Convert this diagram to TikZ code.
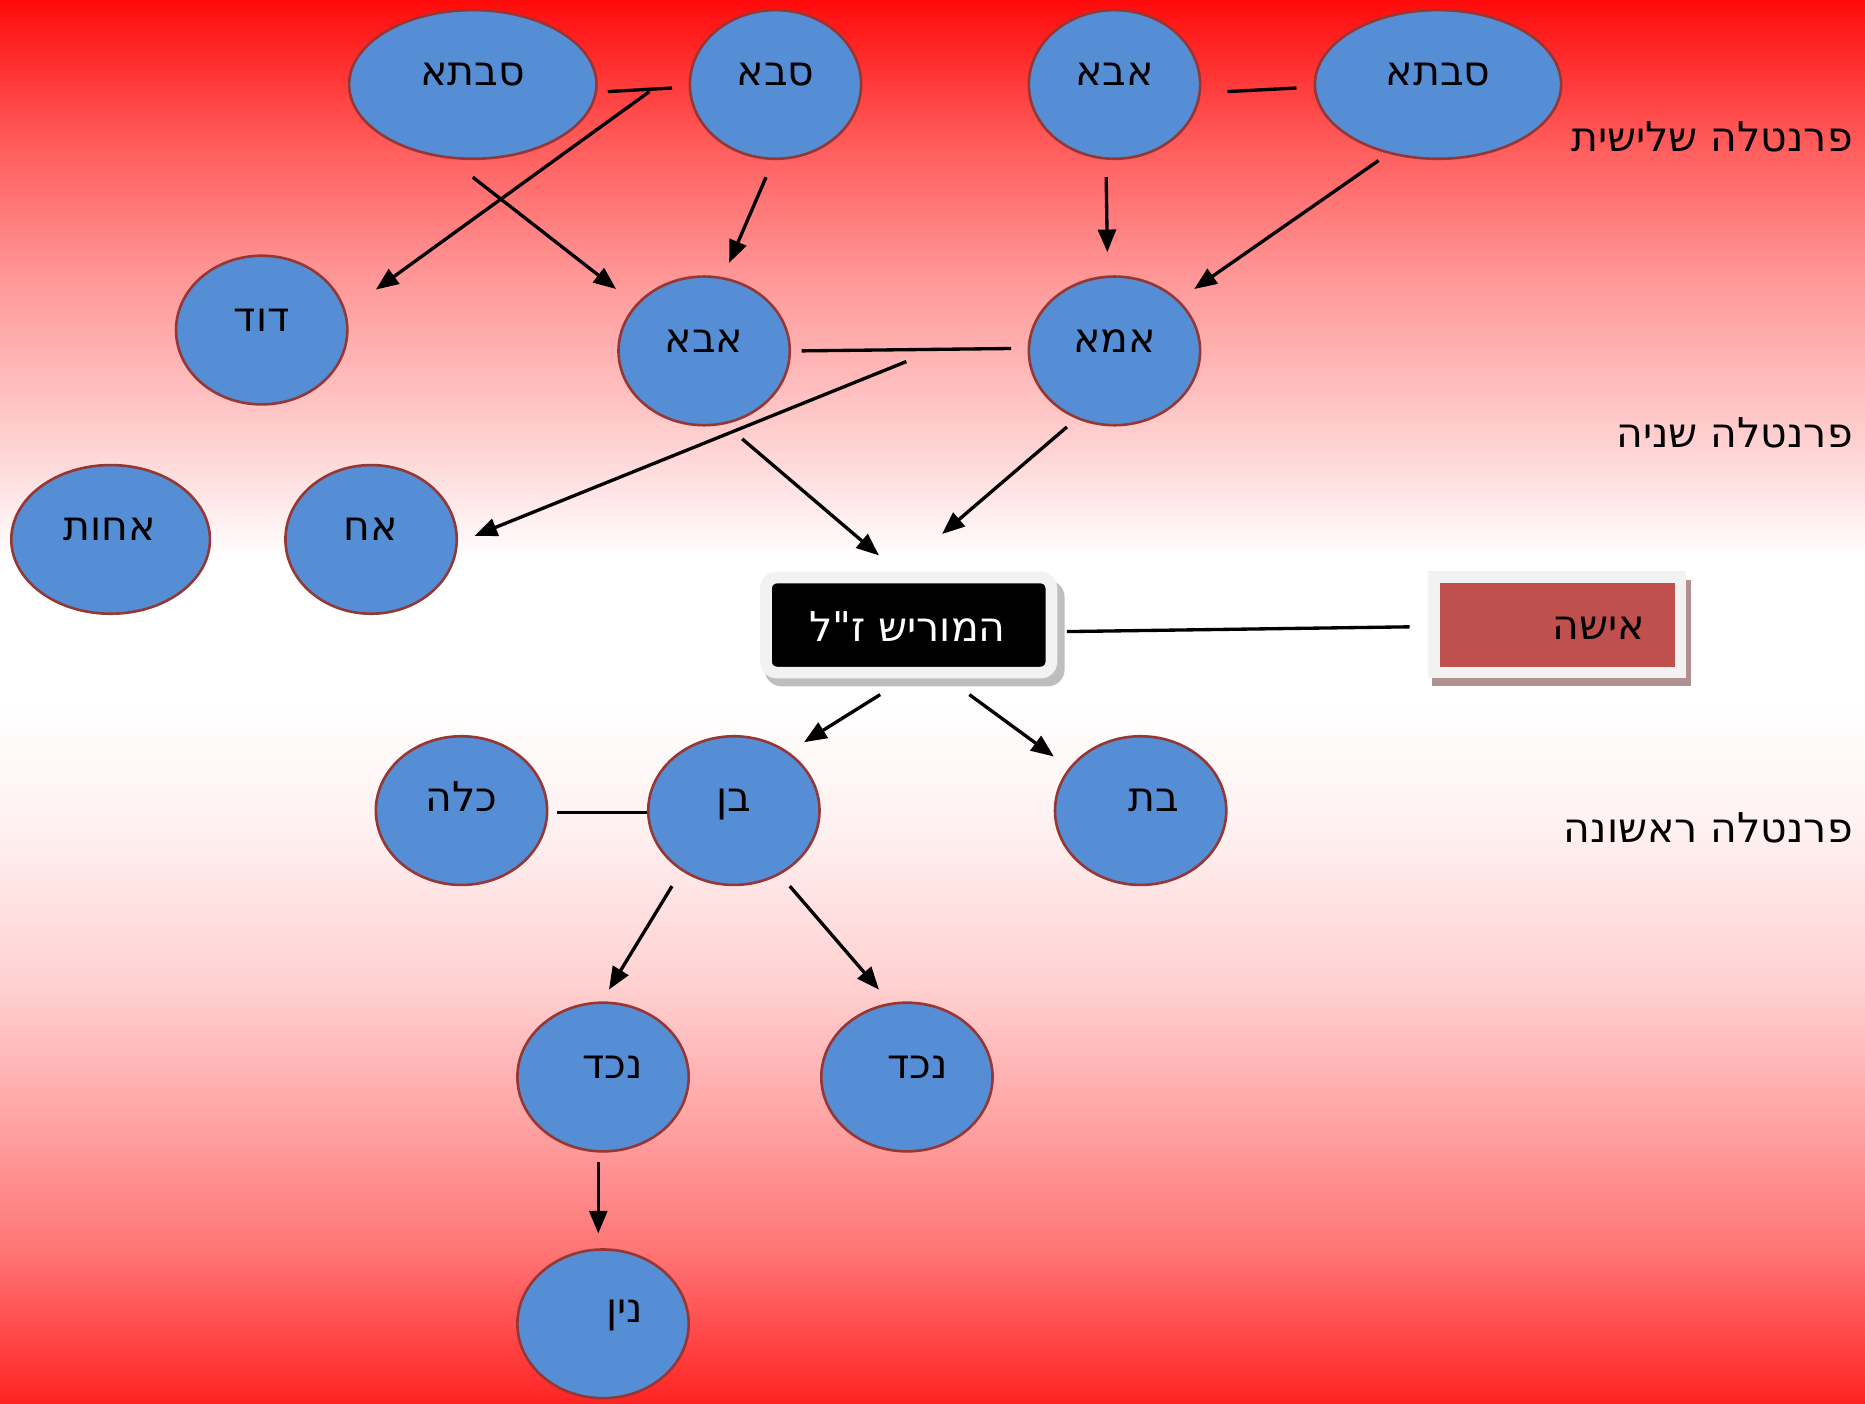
\documentclass[tikz,border=0pt]{standalone}
\usepackage{fontspec}
\newfontfamily\heb[Script=Hebrew]{DejaVu Sans}
\TeXXeTstate=1
\usetikzlibrary{shapes.geometric,arrows.meta,calc}
\definecolor{ellfill}{RGB}{85,142,213}
\definecolor{ellline}{RGB}{149,55,53}
\definecolor{wifered}{RGB}{192,80,77}
\definecolor{boxgray}{RGB}{242,242,242}
\definecolor{shadowgray}{RGB}{190,190,190}
\definecolor{wifeshadow}{RGB}{176,144,144}
\pgfdeclareverticalshading{bgshade}{100bp}{%
rgb(0bp)=(1,0.137,0.137);
rgb(25bp)=(1,0.137,0.137);
rgb(30.51bp)=(1,0.463,0.463);
rgb(34.75bp)=(1,0.627,0.627);
rgb(39.83bp)=(1,0.816,0.816);
rgb(45.34bp)=(1,0.941,0.941);
rgb(50bp)=(1,1,1);
rgb(55.08bp)=(1,1,1);
rgb(59.62bp)=(1,0.804,0.804);
rgb(65.25bp)=(1,0.588,0.588);
rgb(70.34bp)=(1,0.333,0.333);
rgb(75bp)=(1,0.04,0.04);
rgb(100bp)=(1,0.04,0.04)}
\begin{document}
\begin{tikzpicture}[x=1pt,y=-1pt,
  blob/.style={ellipse, draw=ellline, line width=2.2pt, fill=ellfill, inner sep=0pt,
    minimum width=144pt, minimum height=125pt},
  txt/.style={font=\heb\fontsize{34.5}{40}\selectfont, inner sep=0pt, anchor=base},
  ln/.style={line width=2.8pt, black},
  arr/.style={line width=2.8pt, black, -{Triangle[length=19pt,width=15pt]}},
  morbox/.style={rectangle, rounded corners=9pt, fill=black, draw=boxgray, line width=9.8pt,
    minimum width=240pt, minimum height=80pt, inner sep=0pt},
  wifebox/.style={rectangle, fill=wifered, draw=boxgray, line width=10pt,
    minimum width=207.4pt, minimum height=80.2pt, inner sep=0pt}
]
\useasboundingbox (0,0) rectangle (1568,1180);
\shade[shading=bgshade] (0,0) rectangle (1568,1180);

% shadows of the boxes
\fill[shadowgray, rounded corners=14pt] (643,488) rectangle (895,577);
\fill[wifeshadow] (1204,488) rectangle (1422,577);

% ellipses
\node[blob, minimum width=208pt] (sabtaL) at (397.5,71) {};
\node[blob] (saba) at (652,71) {};
\node[blob] (abaT) at (937,71) {};
\node[blob, minimum width=207pt] (sabtaR) at (1209,71) {};
\node[blob] (dod) at (220,277.5) {};
\node[blob] (abaM) at (592,295) {};
\node[blob] (ima) at (937,295) {};
\node[blob, minimum width=167pt] (achot) at (93,453.5) {};
\node[blob] (ach) at (312,453.5) {};
\node[blob] (kala) at (388,681.5) {};
\node[blob] (ben) at (617,681.5) {};
\node[blob] (bat) at (959,681.5) {};
\node[blob] (ncd1) at (507,905.5) {};
\node[blob] (ncd2) at (762.5,905.5) {};
\node[blob] (nin) at (507,1113) {};

% boxes
\node[morbox] (mor) at (764,525.5) {};
\node[wifebox] (isha) at (1309.2,525.3) {};

% texts
\node[txt] (t-sabtaL) at ($(sabtaL)+(0,1)$) {\beginR סבתא\endR};
\node[txt] (t-saba) at ($(saba)+(0,1)$) {\beginR סבא\endR};
\node[txt] (t-abaT) at ($(abaT)+(0,1)$) {\beginR אבא\endR};
\node[txt] (t-sabtaR) at ($(sabtaR)+(0,1)$) {\beginR סבתא\endR};
\node[txt] (t-dod) at ($(dod)+(0,1)$) {\beginR דוד\endR};
\node[txt] (t-abaM) at ($(abaM)+(0,1)$) {\beginR אבא\endR};
\node[txt] (t-ima) at ($(ima)+(0,1)$) {\beginR אמא\endR};
\node[txt] (t-achot) at ($(achot)+(-1,1)$) {\beginR אחות\endR};
\node[txt] (t-ach) at ($(ach)+(0,1)$) {\beginR אח\endR};
\node[txt] (t-kala) at ($(kala)+(0,1)$) {\beginR כלה\endR};
\node[txt] (t-ben) at ($(ben)+(0,1)$) {\beginR בן\endR};
\node[txt] (t-bat) at ($(bat)+(11,1)$) {\beginR בת\endR};
\node[txt] (t-ncd1) at ($(ncd1)+(8,1)$) {\beginR נכד\endR};
\node[txt] (t-ncd2) at ($(ncd2)+(9,1)$) {\beginR נכד\endR};
\node[txt] (t-nin) at ($(nin)+(18,-1)$) {\beginR נין\endR};
\node[txt, text=white] (t-mor) at ($(mor)+(-1,13.5)$) {\beginR המוריש ז"ל\endR};
\node[txt] (t-isha) at ($(isha)+(35,12.7)$) {\beginR אישה\endR};

% generation labels
\node[txt, anchor=base east] (lab3) at (1558,127.5) {\beginR פרנטלה שלישית\endR};
\node[txt, anchor=base east] (lab2) at (1558,376.5) {\beginR פרנטלה שניה\endR};
\node[txt, anchor=base east] (lab1) at (1558,708.5) {\beginR פרנטלה ראשונה\endR};

% connectors
\draw[ln] ($(sabtaL)+(113.5,6)$) -- ($(saba)+(-87,3)$);
\draw[arr] ($(saba)+(-106,6)$) -- ($(dod)+(96,-34)$);
\draw[arr] ($(sabtaL)+(0,78)$) -- ($(abaM)+(-74,-52)$);
\draw[arr] ($(saba)+(-8,78)$) -- ($(abaM)+(21,-74)$);
\draw[arr] ($(abaT)+(-7,78)$) -- ($(ima)+(-6,-83)$);
\draw[ln] ($(abaT)+(95,6)$) -- ($(sabtaR)+(-119,3)$);
\draw[arr] ($(sabtaR)+(-50,64)$) -- ($(ima)+(67,-52)$);
\draw[ln] ($(abaM)+(82,0)$) -- ($(ima)+(-87,-2)$);
\draw[arr] ($(abaM)+(170,9)$) -- ($(ach)+(87,-3)$);
\draw[arr] ($(abaM)+(32,74)$) -- ($(mor)+(-25,-58.5)$);
\draw[arr] ($(ima)+(-40,64)$) -- ($(mor)+(28,-76.5)$);
\draw[ln] ($(mor)+(133,5.5)$) -- ($(isha)+(-124,1.7)$);
\draw[arr] ($(mor)+(-24,58.5)$) -- ($(ben)+(59,-57.5)$);
\draw[arr] ($(mor)+(51,58.5)$) -- ($(bat)+(-73,-45.5)$);
\draw[ln] ($(kala)+(80,1.5)$) -- ($(ben)+(-73,1.5)$);
\draw[arr] ($(ben)+(-52,63.5)$) -- ($(ncd1)+(5,-73.5)$);
\draw[arr] ($(ben)+(47,63.5)$) -- ($(ncd2)+(-23.5,-73.5)$);
\draw[arr] ($(ncd1)+(-4,71.5)$) -- ($(nin)+(-4,-76)$);
\end{tikzpicture}
\end{document}
